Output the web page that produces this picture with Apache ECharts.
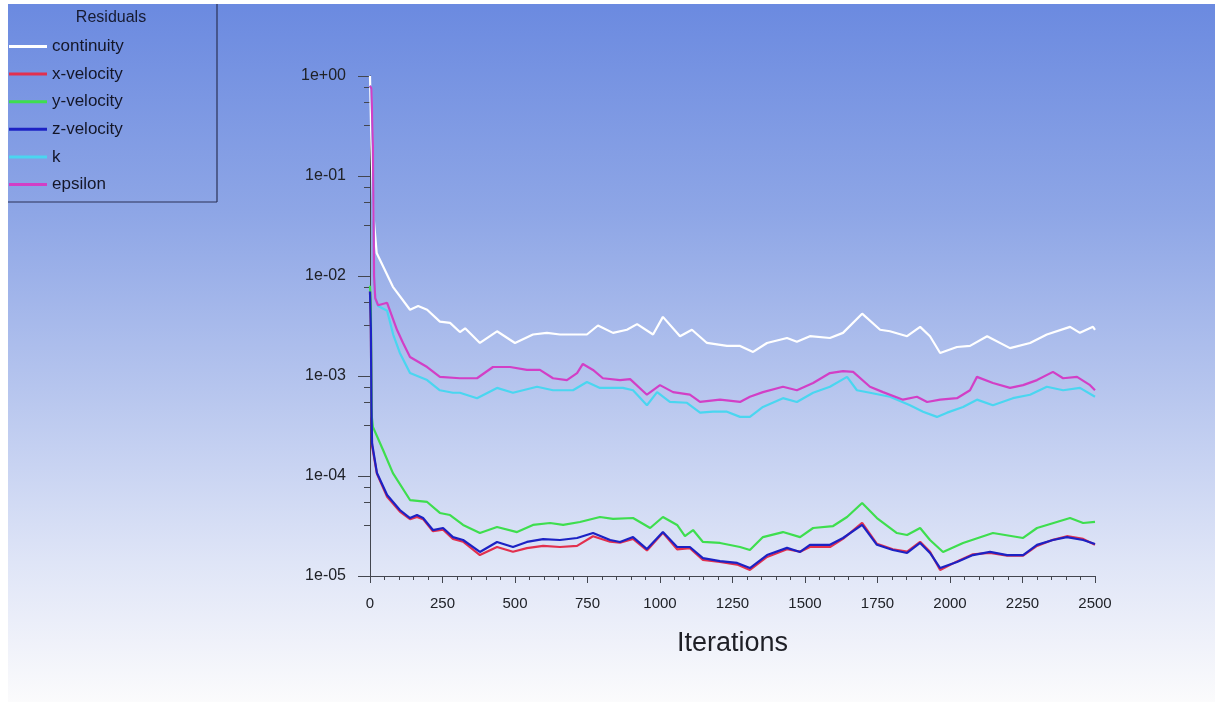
<!DOCTYPE html>
<html><head><meta charset="utf-8">
<script src="https://cdn.jsdelivr.net/npm/echarts@6/dist/echarts.min.js"></script>
<style>html,body{margin:0;padding:0;background:#fff;}#c{width:1215px;height:721px;}</style>
</head><body><div id="c"></div>
<script>
// ---- Data ----
const seriesNames = ['continuity', 'x-velocity', 'y-velocity', 'z-velocity', 'k', 'epsilon'];
const xTickLabels = ['0','250','500','750','1000','1250','1500','1750','2000','2250','2500'];
const yTickLabels = ['1e+00','1e-01','1e-02','1e-03','1e-04','1e-05'];

const continuityIter = [0,5,12,23,79,138,166,197,241,276,310,328,379,438,500,562,610,655,700,748,786,838,886,921,976,1010,1069,1110,1162,1231,1276,1321,1369,1438,1472,1517,1586,1631,1697,1759,1793,1852,1897,1931,1966,2024,2069,2128,2207,2276,2334,2414,2448,2493,2500];
const continuityVal = [1.0,0.2,0.04,0.017,0.0078,0.0046,0.0050,0.0046,0.0035,0.0034,0.00275,0.0030,0.00214,0.0028,0.00214,0.0026,0.0027,0.0026,0.0026,0.0026,0.0032,0.0027,0.0029,0.0033,0.0026,0.0039,0.0025,0.0029,0.00214,0.0020,0.0020,0.00174,0.00214,0.0024,0.0022,0.0025,0.0024,0.0027,0.0042,0.0029,0.0028,0.0025,0.0031,0.0025,0.0017,0.00195,0.0020,0.0025,0.0019,0.00214,0.0026,0.0031,0.0027,0.0031,0.0029];

const velIter = [0,3,5,7,24,59,103,138,162,183,217,252,286,321,379,438,493,541,597,655,714,769,828,862,907,955,1010,1059,1103,1148,1207,1266,1310,1369,1438,1483,1517,1586,1631,1697,1748,1803,1852,1897,1931,1966,2024,2079,2138,2197,2252,2300,2355,2403,2459,2500];
const xVelVal = [0.007,0.003,0.0005,0.0002,0.000105,6.2e-5,4.4e-5,3.7e-5,3.9e-5,3.7e-5,2.8e-5,2.9e-5,2.35e-5,2.2e-5,1.62e-5,1.95e-5,1.75e-5,1.9e-5,2.0e-5,1.95e-5,2.0e-5,2.5e-5,2.2e-5,2.15e-5,2.35e-5,1.8e-5,2.7e-5,1.85e-5,1.9e-5,1.45e-5,1.38e-5,1.3e-5,1.15e-5,1.55e-5,1.85e-5,1.75e-5,1.95e-5,1.95e-5,2.35e-5,3.4e-5,2.1e-5,1.85e-5,1.75e-5,2.2e-5,1.75e-5,1.15e-5,1.4e-5,1.65e-5,1.7e-5,1.6e-5,1.6e-5,2.0e-5,2.3e-5,2.5e-5,2.35e-5,2.05e-5];
const zVelVal = [0.007,0.003,0.0005,0.000214,0.000107,6.46e-5,4.57e-5,3.80e-5,4.07e-5,3.80e-5,2.88e-5,3.02e-5,2.45e-5,2.29e-5,1.74e-5,2.19e-5,1.95e-5,2.19e-5,2.34e-5,2.29e-5,2.40e-5,2.69e-5,2.29e-5,2.19e-5,2.45e-5,1.86e-5,2.75e-5,1.95e-5,1.95e-5,1.51e-5,1.41e-5,1.35e-5,1.20e-5,1.62e-5,1.91e-5,1.74e-5,2.05e-5,2.05e-5,2.40e-5,3.24e-5,2.05e-5,1.82e-5,1.70e-5,2.14e-5,1.70e-5,1.20e-5,1.38e-5,1.62e-5,1.74e-5,1.62e-5,1.62e-5,2.05e-5,2.29e-5,2.45e-5,2.29e-5,2.09e-5];

const yVelIter = [0,3,6,10,45,79,138,197,241,276,321,379,438,507,562,621,666,724,793,838,907,966,1010,1059,1086,1114,1148,1207,1276,1310,1355,1424,1483,1528,1597,1645,1697,1748,1817,1852,1897,1931,1976,2045,2148,2252,2300,2414,2459,2500];
const yVelVal = [0.008,0.005,0.0004,0.00031,0.000182,0.000107,5.75e-5,5.5e-5,4.27e-5,4.07e-5,3.24e-5,2.69e-5,3.09e-5,2.75e-5,3.24e-5,3.39e-5,3.24e-5,3.47e-5,3.89e-5,3.72e-5,3.80e-5,3.02e-5,3.89e-5,3.24e-5,2.51e-5,2.88e-5,2.19e-5,2.14e-5,1.95e-5,1.82e-5,2.45e-5,2.75e-5,2.45e-5,3.02e-5,3.16e-5,3.89e-5,5.37e-5,3.80e-5,2.69e-5,2.57e-5,3.02e-5,2.29e-5,1.74e-5,2.14e-5,2.69e-5,2.40e-5,3.02e-5,3.80e-5,3.39e-5,3.47e-5];

const kIter = [0,5,10,14,18,28,59,80,103,138,197,241,286,310,369,438,493,576,631,700,748,793,872,907,955,990,1034,1093,1138,1183,1231,1276,1310,1355,1424,1472,1528,1586,1645,1679,1724,1793,1862,1907,1955,1990,2045,2093,2148,2217,2276,2334,2390,2448,2500];
const kVal = [0.8,0.75,0.2,0.01,0.006,0.005,0.0045,0.0026,0.0017,0.00107,0.00091,0.00072,0.00068,0.00068,0.00060,0.00076,0.00068,0.00078,0.00072,0.00072,0.00087,0.00076,0.00076,0.00072,0.00051,0.00069,0.00055,0.00054,0.00043,0.00044,0.00044,0.00039,0.00039,0.00049,0.00060,0.00055,0.00068,0.00078,0.00098,0.00072,0.00068,0.00062,0.00051,0.00044,0.00039,0.00043,0.00049,0.00058,0.00051,0.00060,0.00065,0.00078,0.00072,0.00076,0.00062];

const epsIter = [0,5,10,14,18,28,59,93,114,138,197,241,310,369,424,483,541,586,631,679,714,734,769,803,862,897,955,1000,1045,1103,1138,1207,1276,1310,1355,1424,1472,1528,1586,1631,1666,1724,1769,1838,1886,1921,1966,2024,2069,2093,2148,2207,2252,2300,2355,2390,2438,2483,2500];
const epsVal = [0.8,0.75,0.2,0.01,0.006,0.0051,0.0054,0.0029,0.00214,0.00155,0.00123,0.00098,0.00095,0.00095,0.00123,0.00123,0.00115,0.00115,0.00095,0.00091,0.00107,0.00132,0.00115,0.00095,0.00091,0.00093,0.00065,0.00081,0.00069,0.00065,0.00055,0.00058,0.00055,0.00062,0.00069,0.00078,0.00072,0.00085,0.00107,0.00112,0.00110,0.00078,0.00069,0.00058,0.00062,0.00055,0.00058,0.00060,0.00072,0.00098,0.00085,0.00076,0.00081,0.00091,0.00110,0.00095,0.00098,0.00081,0.00072];

const seriesColors = ['#ffffff', '#e2304e', '#3ede4e', '#1c22c4', '#4ad6f0', '#d23fc6'];

// ---- Build ----
function zip(a, b) { const n = Math.min(a.length, b.length); const r = []; for (let i = 0; i < n; i++) r.push([a[i], b[i]]); return r; }
const FONT = '"Liberation Sans", Arial, sans-serif';
const axisColor = '#43464f';
const seriesData = [
  zip(continuityIter, continuityVal),
  zip(velIter, xVelVal),
  zip(yVelIter, yVelVal),
  zip(velIter, zVelVal),
  zip(kIter, kVal),
  zip(epsIter, epsVal)
];

const chart = echarts.init(document.getElementById('c'), null, { renderer: 'canvas' });
chart.setOption({
  animation: false,
  backgroundColor: '#ffffff',
  graphic: [
    { type: 'rect', z: -100, silent: true, shape: { x: 8, y: 4, width: 1207, height: 698 },
      style: { fill: { type: 'linear', x: 0, y: 0, x2: 0, y2: 1, colorStops: [
        { offset: 0, color: '#6b8ae0' },
        { offset: 0.3, color: '#8ea6e6' },
        { offset: 0.55, color: '#b6c5ee' },
        { offset: 0.8, color: '#dfe5f7' },
        { offset: 0.92, color: '#f0f2fa' },
        { offset: 1, color: '#fbfbfc' } ] } } },
    { type: 'line', silent: true, shape: { x1: 217, y1: 4, x2: 217, y2: 202 }, style: { stroke: '#2a3156', lineWidth: 1.2 } },
    { type: 'line', silent: true, shape: { x1: 8, y1: 202, x2: 217, y2: 202 }, style: { stroke: '#2a3156', lineWidth: 1.2 } },
    { type: 'text', silent: true, style: { text: 'Residuals', x: 111, y: 18, textAlign: 'center', textVerticalAlign: 'middle', font: '16px "Liberation Sans", Arial, sans-serif', fill: '#161a30' } }
  ],
  legend: {
    orient: 'vertical', left: 9, top: 38, padding: 0,
    itemWidth: 38, itemHeight: 3, itemGap: 10.6, icon: 'rect',
    textStyle: { fontSize: 17, fontFamily: FONT, color: '#141628', lineHeight: 17 },
    data: seriesNames
  },
  grid: { left: 370, right: 120, top: 76, bottom: 145, containLabel: false },
  xAxis: {
    type: 'value', min: 0, max: 2500, interval: 250,
    name: 'Iterations', nameLocation: 'middle', nameGap: 54,
    nameTextStyle: { fontSize: 27, fontFamily: FONT, color: '#1e1f26' },
    axisLine: { show: true, lineStyle: { color: axisColor, width: 1 } },
    axisTick: { show: true, length: 7, lineStyle: { color: axisColor } },
    minorTick: { show: true, splitNumber: 5, length: 4, lineStyle: { color: axisColor } },
    axisLabel: { fontSize: 15, fontFamily: FONT, color: '#202228', margin: 20,
      formatter: function (v) { return xTickLabels[Math.round(v / 250)] || ''; } },
    splitLine: { show: false }
  },
  yAxis: {
    type: 'log', logBase: 10, min: 1e-5, max: 1,
    axisLine: { show: true, lineStyle: { color: axisColor, width: 1 } },
    axisTick: { show: true, length: 12, lineStyle: { color: axisColor } },
    minorTick: { show: true, splitNumber: 4, length: 6, lineStyle: { color: axisColor } },
    axisLabel: { fontSize: 16, fontFamily: FONT, color: '#202228', margin: 24,
      formatter: function (v) { const e = Math.round(-Math.log10(v)); return yTickLabels[e] || ''; } },
    splitLine: { show: false }
  },
  series: seriesNames.map(function (name, i) {
    return {
      name: name, type: 'line', data: seriesData[i],
      showSymbol: false, symbol: 'none', clip: true,
      lineStyle: { width: 2.2, color: seriesColors[i] },
      itemStyle: { color: seriesColors[i] },
      z: 2 + i
    };
  })
});
</script></body></html>
